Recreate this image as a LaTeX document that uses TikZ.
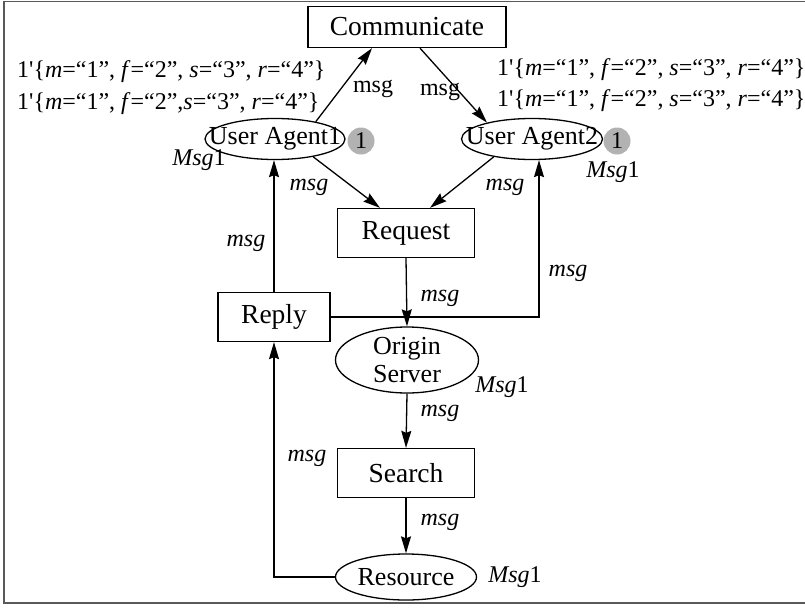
\documentclass[tikz,border=0pt]{standalone}
\usepackage{fontspec}
\setmainfont{Liberation Serif}
\usetikzlibrary{arrows.meta,shapes.geometric}

\begin{document}
\begin{tikzpicture}[x=1pt,y=-1pt,
  every node/.style={inner sep=0pt},
  trans/.style={draw, line width=1.3pt, rectangle, minimum height=49,
    font=\fontsize{27.5}{30}\selectfont},
  place/.style={draw, line width=1.3pt, ellipse,
    label={[font=\fontsize{26}{28}\selectfont, align=center]center:#1}},
  token/.style={circle, fill=black!30, minimum size=27,
    font=\fontsize{24}{26}\selectfont},
  arc/.style={line width=1.3pt, -{Stealth[length=17pt,width=10pt,inset=2pt]}},
  ann/.style={font=\fontsize{24}{26}\selectfont},
  frame/.style={line width=1.6pt, black!65}
]
\useasboundingbox (0,0) rectangle (805,608);

% outer frame
\draw[frame] (805,1.5) -- (4,1.5) -- (4,603) -- (805,603);

% transitions
\node[trans, minimum width=198, minimum height=41] (comm) at (407,27) {Communicate};
\node[trans, minimum width=137] (req) at (406,233) {Request};
\node[trans, minimum width=112] (reply) at (274,317) {Reply};
\node[trans, minimum width=137] (search) at (406,473) {Search};

% places
\node[place={User Agent1}, minimum width=140, minimum height=41] (ua1) at (275,139) {};
\node[place={User Agent2}, minimum width=141, minimum height=41] (ua2) at (532,139) {};
\node[place={Origin\\Server}, minimum width=143, minimum height=66] (org) at (407,360) {};
\node[place={Resource}, minimum width=141, minimum height=46] (res) at (406,577) {};

% marking counters
\node[token] (t1) at (361,141) {1};
\node[token] (t2) at (617,141) {1};

% arcs
\draw[arc] (ua1.23) -- ([xshift=-35]comm.south);
\draw[arc] ([xshift=13]comm.south) -- (ua2.160);
\draw[arc] (ua1.-25) -- ([xshift=-26]req.north);
\draw[arc] (ua2.205) -- ([xshift=24]req.north);
\draw[arc] (req.south) -- (org.north);
\draw[arc] (reply.north) -- (reply.north |- ua1.south);
\draw[arc] (reply.east) -| ([xshift=7]ua2.south);
\draw[arc] (org.south) -- (search.north);
\draw[arc] (search.south) -- (res.north);
\draw[arc] (res.west) -| (reply.south);

% arc inscriptions
\node[ann] (l1) at (373,89) {msg};
\node[ann] (l2) at (440,92) {msg};
\node[ann] (l3) at (309,187) {\textit{msg}};
\node[ann] (l4) at (505,187) {\textit{msg}};
\node[ann] (l5) at (246,243) {\textit{msg}};
\node[ann] (l6) at (568,273) {\textit{msg}};
\node[ann] (l7) at (440,298) {\textit{msg}};
\node[ann] (l8) at (440,413) {\textit{msg}};
\node[ann] (l9) at (307,458) {\textit{msg}};
\node[ann] (l10) at (440,522) {\textit{msg}};

% colour sets
\node[ann] (c1) at (199,160) {\textit{Msg}1};
\node[ann] (c2) at (613,172) {\textit{Msg}1};
\node[ann] (c3) at (502,387) {\textit{Msg}1};
\node[ann] (c4) at (515,577) {\textit{Msg}1};

% initial markings
\node[ann, anchor=west] (m1) at (17,72) {1\textquotesingle\{\textit{m}=“1”, \textit{f}=“2”, \textit{s}=“3”, \textit{r}=“4”\}};
\node[ann, anchor=west] (m2) at (17,104) {1\textquotesingle\{\textit{m}=“1”, \textit{f}=“2”,\textit{s}=“3”, \textit{r}=“4”\}};
\node[ann, anchor=west] (m3) at (497,70) {1\textquotesingle\{\textit{m}=“1”, \textit{f}=“2”, \textit{s}=“3”, \textit{r}=“4”\}};
\node[ann, anchor=west] (m4) at (497,101) {1\textquotesingle\{\textit{m}=“1”, \textit{f}=“2”, \textit{s}=“3”, \textit{r}=“4”\}};
\end{tikzpicture}
\end{document}
